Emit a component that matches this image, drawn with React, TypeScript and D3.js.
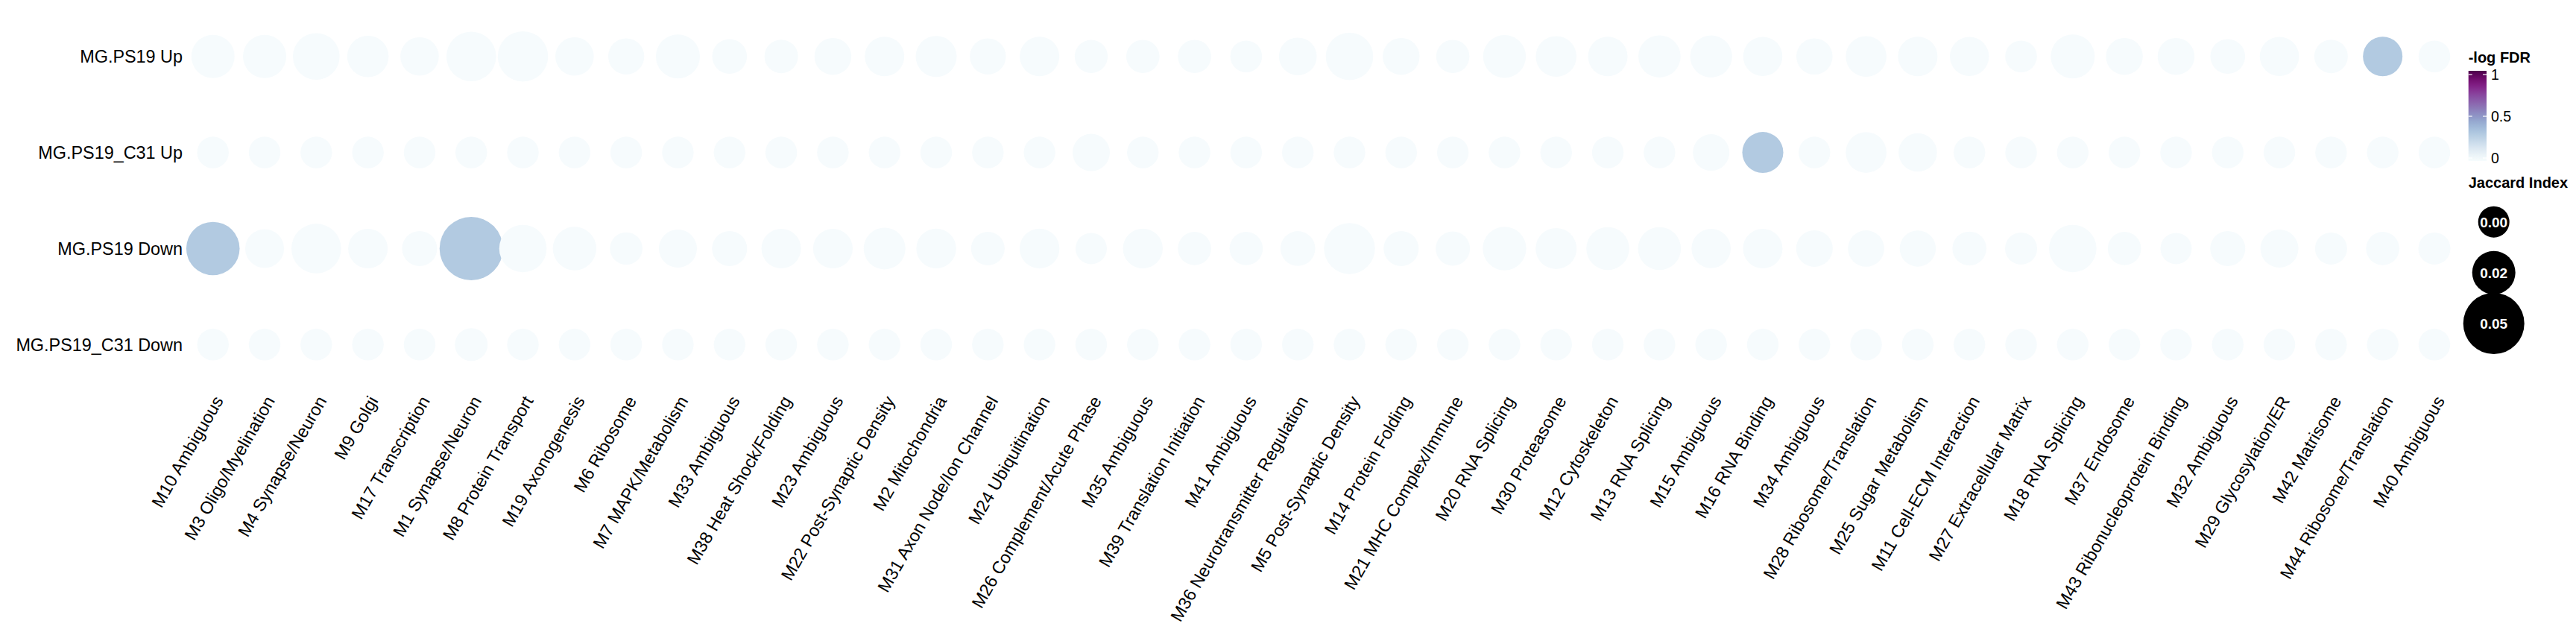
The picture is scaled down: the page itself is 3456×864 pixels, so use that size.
import React from 'react';
import * as d3 from 'd3';

// Gene modules along the x axis (in plotted order)
const modules = [
  'M10 Ambiguous', 'M3 Oligo/Myelination', 'M4 Synapse/Neuron', 'M9 Golgi', 'M17 Transcription',
  'M1 Synapse/Neuron', 'M8 Protein Transport', 'M19 Axonogenesis', 'M6 Ribosome', 'M7 MAPK/Metabolism',
  'M33 Ambiguous', 'M38 Heat Shock/Folding', 'M23 Ambiguous', 'M22 Post-Synaptic Density', 'M2 Mitochondria',
  'M31 Axon Node/Ion Channel', 'M24 Ubiquitination', 'M26 Complement/Acute Phase', 'M35 Ambiguous',
  'M39 Translation Initiation', 'M41 Ambiguous', 'M36 Neurotransmitter Regulation', 'M5 Post-Synaptic Density',
  'M14 Protein Folding', 'M21 MHC Complex/Immune', 'M20 RNA Splicing', 'M30 Proteasome', 'M12 Cytoskeleton',
  'M13 RNA Splicing', 'M15 Ambiguous', 'M16 RNA Binding', 'M34 Ambiguous', 'M28 Ribosome/Translation',
  'M25 Sugar Metabolism', 'M11 Cell-ECM Interaction', 'M27 Extracellular Matrix', 'M18 RNA Splicing',
  'M37 Endosome', 'M43 Ribonucleoprotein Binding', 'M32 Ambiguous', 'M29 Glycosylation/ER', 'M42 Matrisome',
  'M44 Ribosome/Translation', 'M40 Ambiguous',
];

const conditions = ['MG.PS19 Up', 'MG.PS19_C31 Up', 'MG.PS19 Down', 'MG.PS19_C31 Down'];

// Jaccard index per module, one array per condition
const jaccardUp = [
  0.020, 0.020, 0.0258, 0.017, 0.012, 0.0308, 0.0318, 0.012, 0.008, 0.0213,
  0.0058, 0.0038, 0.0093, 0.0138, 0.0163, 0.008, 0.0138, 0.003, 0.0033, 0.0033,
  0.0008, 0.0108, 0.027, 0.0093, 0.0033, 0.0193, 0.0158, 0.0138, 0.0183, 0.018,
  0.0133, 0.0083, 0.0158, 0.0138, 0.013, 0.0008, 0.0213, 0.0093, 0.0093, 0.0058,
  0.0133, 0.0038, 0.0138, 0.0008,
];
const jaccardC31Up = [
  0.0005, 0.0005, 0.0005, 0.0005, 0.0005, 0.0005, 0.0005, 0.0005, 0.0005, 0.0005,
  0.0005, 0.0005, 0.0005, 0.0005, 0.0005, 0.0005, 0.0005, 0.010, 0.0005, 0.0005,
  0.0005, 0.0005, 0.0005, 0.0005, 0.0005, 0.0005, 0.0005, 0.0005, 0.0005, 0.0088,
  0.0163, 0.0005, 0.0158, 0.0118, 0.0005, 0.0005, 0.0005, 0.0005, 0.0005, 0.0005,
  0.0005, 0.0005, 0.0005, 0.0005,
];
const jaccardDown = [
  0.037, 0.0125, 0.0308, 0.0138, 0.0063, 0.0538, 0.027, 0.0205, 0.002, 0.0113,
  0.0063, 0.0138, 0.0138, 0.0175, 0.0143, 0.0038, 0.0143, 0.000, 0.0143, 0.0033,
  0.0033, 0.0058, 0.033, 0.0063, 0.005, 0.0205, 0.0163, 0.0195, 0.0195, 0.0133,
  0.0138, 0.0088, 0.0083, 0.008, 0.0045, 0.0013, 0.027, 0.0033, 0.000, 0.0063,
  0.0113, 0.0013, 0.0033, 0.0013,
];
const jaccardC31Down = [
  0.0005, 0.0005, 0.0005, 0.0005, 0.0005, 0.0025, 0.0005, 0.0005, 0.0005, 0.0005,
  0.0005, 0.0005, 0.0005, 0.0005, 0.0005, 0.0005, 0.0005, 0.0005, 0.0005, 0.0005,
  0.0005, 0.0005, 0.0005, 0.0005, 0.0005, 0.0005, 0.0005, 0.0005, 0.0005, 0.0005,
  0.0005, 0.0005, 0.0005, 0.0005, 0.0005, 0.0005, 0.0005, 0.0005, 0.0005, 0.0005,
  0.0005, 0.0005, 0.0005, 0.0005,
];

// -log FDR per module, one array per condition
const fdrUp = [
  0.005, 0.005, 0.005, 0.005, 0.005, 0.005, 0.005, 0.005, 0.005, 0.005,
  0.005, 0.005, 0.005, 0.005, 0.005, 0.005, 0.005, 0.005, 0.005, 0.005,
  0.005, 0.005, 0.005, 0.005, 0.005, 0.005, 0.005, 0.005, 0.005, 0.005,
  0.005, 0.005, 0.005, 0.005, 0.005, 0.005, 0.005, 0.005, 0.005, 0.005,
  0.005, 0.005, 0.30, 0.005,
];
const fdrC31Up = [
  0.005, 0.005, 0.005, 0.005, 0.005, 0.005, 0.005, 0.005, 0.005, 0.005,
  0.005, 0.005, 0.005, 0.005, 0.005, 0.005, 0.005, 0.005, 0.005, 0.005,
  0.005, 0.005, 0.005, 0.005, 0.005, 0.005, 0.005, 0.005, 0.005, 0.005,
  0.30, 0.005, 0.005, 0.005, 0.005, 0.005, 0.005, 0.005, 0.005, 0.005,
  0.005, 0.005, 0.005, 0.005,
];
const fdrDown = [
  0.30, 0.005, 0.005, 0.005, 0.005, 0.30, 0.005, 0.005, 0.005, 0.005,
  0.005, 0.005, 0.005, 0.005, 0.005, 0.005, 0.005, 0.005, 0.005, 0.005,
  0.005, 0.005, 0.005, 0.005, 0.005, 0.005, 0.005, 0.005, 0.005, 0.005,
  0.005, 0.005, 0.005, 0.005, 0.005, 0.005, 0.005, 0.005, 0.005, 0.005,
  0.005, 0.005, 0.005, 0.005,
];
const fdrC31Down = [
  0.005, 0.005, 0.005, 0.005, 0.005, 0.005, 0.005, 0.005, 0.005, 0.005,
  0.005, 0.005, 0.005, 0.005, 0.005, 0.005, 0.005, 0.005, 0.005, 0.005,
  0.005, 0.005, 0.005, 0.005, 0.005, 0.005, 0.005, 0.005, 0.005, 0.005,
  0.005, 0.005, 0.005, 0.005, 0.005, 0.005, 0.005, 0.005, 0.005, 0.005,
  0.005, 0.005, 0.005, 0.005,
];

// legend breaks
const colorTicks = [0, 0.5, 1];
const colorTickLabels = ['0', '0.5', '1'];
const sizeBreaks = [0, 0.02, 0.05];
const sizeBreakLabels = ['0.00', '0.02', '0.05'];

const W = 3456;
const H = 864;
const FONT = '"Liberation Sans", Arial, Helvetica, sans-serif';

const App: React.FC = () => {
  const x = d3.scalePoint<string>().domain(modules).range([285.7, 3266]);
  const y = d3.scalePoint<string>().domain(conditions).range([75.7, 462.3]);
  const r = d3.scaleLinear().domain([0, 0.05]).range([21, 41]);
  const color = d3.scaleSequential(d3.interpolateBuPu).domain([0, 1]);

  const rows = [
    { cond: conditions[0], jac: jaccardUp, fdr: fdrUp },
    { cond: conditions[1], jac: jaccardC31Up, fdr: fdrC31Up },
    { cond: conditions[2], jac: jaccardDown, fdr: fdrDown },
    { cond: conditions[3], jac: jaccardC31Down, fdr: fdrC31Down },
  ];
  const points = rows.flatMap(row =>
    modules.map((m, i) => ({ module: m, cond: row.cond, jac: row.jac[i], fdr: row.fdr[i] }))
  );

  // legend geometry
  const legX = 3311.7;
  const barW = 24.3;
  const barTop = 95;
  const barBottom = 216;
  const barY = d3.scaleLinear().domain([0, 1]).range([212, 100]);
  const stops = d3.range(0, 1.0001, 0.05);
  const keyX = 3345.7;
  const keyY = d3.scalePoint<string>().domain(sizeBreakLabels).range([297.7, 434]);

  const xLabelY = 529;

  return (
    <div style={{ position: 'absolute', left: 0, top: 0 }}>
      <svg width={W} height={H} style={{ display: 'block', background: '#fff', fontFamily: FONT }}>
        <defs>
          <linearGradient id="fdrGrad" x1="0" y1="1" x2="0" y2="0">
            {stops.map(s => (
              <stop key={s} offset={`${s * 100}%`} stopColor={color(s)} />
            ))}
          </linearGradient>
        </defs>

        {/* dots */}
        <g>
          {points.map(p => (
            <circle
              key={`${p.cond}-${p.module}`}
              cx={x(p.module)}
              cy={y(p.cond)}
              r={r(p.jac)}
              fill={color(p.fdr)}
            />
          ))}
        </g>

        {/* y axis labels */}
        <g>
          {conditions.map(c => (
            <text
              key={c}
              x={245}
              y={y(c)}
              dy="0.36em"
              textAnchor="end"
              fontSize={23.4}
              fill="#000"
            >
              {c}
            </text>
          ))}
        </g>

        {/* x axis labels */}
        <g>
          {modules.map(m => (
            <text
              key={m}
              transform={`translate(${x(m)},${xLabelY}) rotate(-60)`}
              dy="0.72em"
              textAnchor="end"
              fontSize={23.4}
              fill="#000"
            >
              {m}
            </text>
          ))}
        </g>

        {/* colour legend */}
        <g>
          <text x={legX} y={83.5} fontSize={20} fontWeight="bold" fill="#000">-log FDR</text>
          <rect x={legX} y={barTop} width={barW} height={barBottom - barTop} fill="url(#fdrGrad)" />
          {colorTicks.map((t, i) => (
            <g key={t}>
              <line x1={legX} x2={legX + 5} y1={barY(t)} y2={barY(t)} stroke="#fff" strokeWidth={1.2} />
              <line x1={legX + barW - 5} x2={legX + barW} y1={barY(t)} y2={barY(t)} stroke="#fff" strokeWidth={1.2} />
              <text x={legX + barW + 6} y={barY(t)} dy="0.36em" fontSize={19.5} fill="#000">
                {colorTickLabels[i]}
              </text>
            </g>
          ))}
        </g>

        {/* size legend */}
        <g>
          <text x={legX} y={252.3} fontSize={20} fontWeight="bold" fill="#000">Jaccard Index</text>
          {sizeBreaks.map((b, i) => (
            <g key={b}>
              <circle cx={keyX} cy={keyY(sizeBreakLabels[i])} r={r(b)} fill="#000" />
              <text
                x={keyX}
                y={keyY(sizeBreakLabels[i])}
                dy="0.36em"
                textAnchor="middle"
                fontSize={19}
                fontWeight="bold"
                fill="#fff"
              >
                {sizeBreakLabels[i]}
              </text>
            </g>
          ))}
        </g>
      </svg>
    </div>
  );
};

export default App;
